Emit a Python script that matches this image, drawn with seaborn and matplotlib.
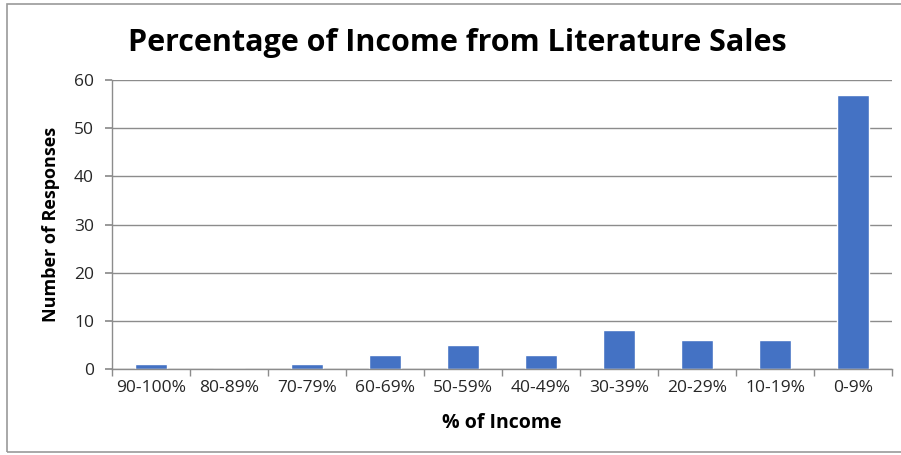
import matplotlib
matplotlib.use("Agg")
import matplotlib.pyplot as plt
import seaborn as sns
import pandas as pd
from matplotlib.patches import Rectangle

categories = ["90-100%", "80-89%", "70-79%", "60-69%", "50-59%",
              "40-49%", "30-39%", "20-29%", "10-19%", "0-9%"]
responses = [1, 0, 1, 3, 5, 3, 8, 6, 6, 57]
y_ticks = [0, 10, 20, 30, 40, 50, 60]

df = pd.DataFrame({"range": categories, "count": responses})

sns.set_theme(style="white")
plt.rcParams["font.family"] = ["Open Sans", "DejaVu Sans"]

fig = plt.figure(figsize=(9.01, 4.55), dpi=100)
ax = fig.add_axes([0.1243, 0.189, 0.8657, 0.635])

sns.barplot(data=df, x="range", y="count", color="#4472C4", width=0.4,
            saturation=1, ax=ax, order=categories)

ax.set_ylim(0, 60)
ax.set_xlim(-0.5, len(categories) - 0.5)
ax.set_yticks(y_ticks)
ax.yaxis.grid(True, color="#8c8c8c", linewidth=1)
ax.set_axisbelow(True)

for side in ["top", "right"]:
    ax.spines[side].set_visible(False)
for side in ["left", "bottom"]:
    ax.spines[side].set_color("#8c8c8c")
    ax.spines[side].set_linewidth(1)

# tick marks on category boundaries
ax.set_xticks([i - 0.5 for i in range(len(categories) + 1)], minor=True)
ax.tick_params(axis="x", which="minor", length=5, color="#8c8c8c", direction="out", bottom=True)
ax.tick_params(axis="x", which="major", length=0, labelsize=12.5, pad=8, colors="#262626")
ax.tick_params(axis="y", which="major", length=5, color="#8c8c8c", direction="out", left=True,
               labelsize=12.5, pad=8, colors="#262626")

ax.set_xlabel("% of Income", fontsize=14, fontweight="bold", labelpad=12, color="black")
ax.set_ylabel("Number of Responses", fontsize=13, fontweight="bold", labelpad=10, color="black")
fig.text(0.508, 0.905, "Percentage of Income from Literature Sales", ha="center", va="center",
         fontsize=22, fontweight="bold", color="black")

# chart frame
fig.patches.append(Rectangle((0.008, 0.006), 1.2, 0.985, transform=fig.transFigure,
                             fill=False, edgecolor="#9a9a9a", linewidth=1.2))

fig.savefig("out.png", dpi=100)
